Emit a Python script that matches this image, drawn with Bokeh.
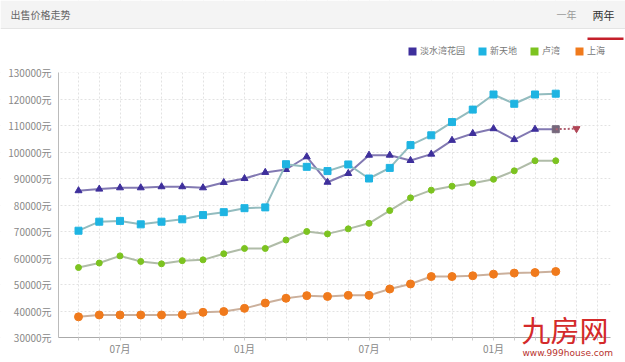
from bokeh.plotting import figure
from bokeh.models import Range1d, FixedTicker, Legend, LegendItem, Label, BoxAnnotation
from bokeh.embed import file_html
from bokeh.resources import INLINE

# ---------------- data ----------------
months = list(range(24))
x_ticks = list(range(26))
x_tick_labels = {2: "07月", 8: "01月", 14: "07月", 20: "01月"}
y_ticks = [30000, 40000, 50000, 60000, 70000, 80000, 90000, 100000, 110000, 120000, 130000]

names = ["淡水湾花园", "新天地", "卢湾", "上海"]
danshuiwan = [85400, 86000, 86500, 86500, 86900, 86900, 86500, 88500, 90000, 92300, 93400, 98200,
              88600, 91900, 98800, 98800, 96800, 99200, 104400, 107000, 108800, 104700, 108600, 108600]
xintiandi = [70300, 73700, 74000, 72700, 73700, 74600, 76200, 77300, 78800, 79100, 95400, 94400,
             92800, 95300, 90000, 94000, 102600, 106300, 111300, 116000, 121700, 118200, 121700, 122000]
luwan = [56400, 58100, 60800, 58700, 57800, 59000, 59300, 61600, 63600, 63600, 66800, 70000,
         69100, 71000, 73100, 77900, 82700, 85600, 87100, 88200, 89700, 92900, 96700, 96700]
shanghai = [37800, 38500, 38500, 38500, 38500, 38600, 39500, 39800, 41000, 43000, 44800, 45800,
            45500, 45900, 45900, 48300, 50200, 53000, 53000, 53300, 53900, 54300, 54500, 54900]
forecast_x = [23, 24]
forecast_y = [108600, 108800]
colors = ["#3e2f9c", "#1eb4e2", "#7cc320", "#f07a1c"]

FONT = "Noto Sans CJK SC"

# ---------------- canvas geometry (page pixels -> data) ----------------
W, H = 625, 362
PX_X = 20.75          # pixels per month
PX_Y = 0.00265        # pixels per unit of price
X_LEFT = -78 / PX_X   # canvas left edge in month units
Y_TOP = 30000 + 337 / PX_Y


def dx(page_x):
    return X_LEFT + page_x / PX_X


def dy(page_y):
    return Y_TOP - page_y / PX_Y


x_lo, x_hi = -0.96, 25.64   # plot area edges (month units)

p = figure(width=W, height=H,
           x_range=Range1d(X_LEFT, X_LEFT + W / PX_X),
           y_range=Range1d(Y_TOP - H / PX_Y, Y_TOP),
           output_backend="svg", toolbar_location=None, min_border=0)
p.outline_line_color = None

# grid
p.xgrid.ticker = FixedTicker(ticks=x_ticks)
p.ygrid.ticker = FixedTicker(ticks=y_ticks)
for g in (p.xgrid, p.ygrid):
    g.grid_line_color = "#e2e2e2"
    g.grid_line_dash = "2 2"

# keep the grid inside the plot area
for kw in (dict(bottom=y_ticks[-1]), dict(top=y_ticks[0]), dict(right=x_lo), dict(left=x_hi)):
    p.add_layout(BoxAnnotation(fill_color="white", fill_alpha=1, line_alpha=0,
                               level="underlay", **kw))

# header bar
p.add_layout(BoxAnnotation(bottom=dy(28), fill_color="#f4f4f4", fill_alpha=1, line_alpha=0,
                           level="underlay"))
p.add_layout(BoxAnnotation(top=dy(27.5), bottom=dy(28.5), fill_color="#e4e4e4", fill_alpha=1,
                           line_alpha=0, level="underlay"))
p.add_layout(BoxAnnotation(left=dx(587), right=dx(623), top=dy(37), bottom=dy(39.5),
                           fill_color="#c41f2a", fill_alpha=1, line_alpha=0, level="underlay"))
p.add_layout(Label(x=dx(10), y=dy(14), text="出售价格走势", text_baseline="middle",
                   text_font=FONT, text_font_size="10px", text_color="#666666"))
p.add_layout(Label(x=dx(566), y=dy(14), text="一年", text_baseline="middle", text_align="center",
                   text_font=FONT, text_font_size="10px", text_color="#999999"))
p.add_layout(Label(x=dx(603), y=dy(14), text="两年", text_baseline="middle", text_align="center",
                   text_font=FONT, text_font_size="11px", text_color="#333333"))

# axes
p.xaxis.fixed_location = y_ticks[0]
p.xaxis.bounds = (x_lo, x_hi)
p.xaxis.ticker = FixedTicker(ticks=x_ticks)
p.xaxis.major_label_overrides = {i: x_tick_labels.get(i, "") for i in x_ticks}
p.xaxis.major_tick_out = 3
p.xaxis.major_tick_in = 0
p.xaxis.minor_tick_line_color = None
p.xaxis.axis_line_color = "#aaaaaa"
p.xaxis.major_tick_line_color = "#cccccc"
p.xaxis.major_label_standoff = 0

p.yaxis.fixed_location = x_lo
p.yaxis.bounds = (y_ticks[0], y_ticks[-1])
p.yaxis.ticker = FixedTicker(ticks=y_ticks)
p.yaxis.major_label_overrides = {v: f"{v}元" for v in y_ticks}
p.yaxis.major_tick_out = 0
p.yaxis.major_tick_in = 0
p.yaxis.minor_tick_line_color = None
p.yaxis.axis_line_color = "#bbbbbb"
p.yaxis.major_label_standoff = 7

for ax in (p.xaxis, p.yaxis):
    ax.major_label_text_font = FONT
    ax.major_label_text_font_size = "10px"
    ax.major_label_text_color = "#888888"

# series
p.line(months, danshuiwan, line_color="#8279b2", line_width=2)
p.scatter(months[:-1], danshuiwan[:-1], marker="triangle", size=7, color=colors[0])
p.scatter(months[-1:], danshuiwan[-1:], marker="square", size=7, color="#76687c")
p.line(forecast_x, forecast_y, line_color="#b06070", line_width=2, line_dash="2 2")
p.scatter(forecast_x[1:], forecast_y[1:], marker="inverted_triangle", size=7, color="#b04556")

p.line(months, xintiandi, line_color="#93bcbf", line_width=2)
p.scatter(months, xintiandi, marker="square", size=7, color=colors[1])

p.line(months, luwan, line_color="#b0bca8", line_width=2)
p.scatter(months, luwan, marker="circle", size=6, color=colors[2])

p.line(months, shanghai, line_color="#cbb09c", line_width=2)
p.scatter(months, shanghai, marker="circle", size=8, color=colors[3])

# legend (colour swatches; proxies lie outside the visible ranges)
items = []
for n, c in zip(names, colors):
    r = p.quad(left=[X_LEFT - 20], right=[X_LEFT - 19], bottom=[0], top=[1],
               fill_color=c, line_color=None)
    items.append(LegendItem(label=n, renderers=[r]))
legend = Legend(items=items, orientation="horizontal", location=(407, H - 57),
                glyph_width=10, glyph_height=10, label_height=12, label_standoff=3,
                spacing=12, padding=0, margin=0, border_line_color=None,
                background_fill_alpha=0, label_text_font=FONT,
                label_text_font_size="9px", label_text_color="#777777")
p.add_layout(legend)

# watermark
p.add_layout(Label(x=dx(521), y=dy(328), text="九房网", text_font=FONT, text_font_size="29px",
                   text_color="#d42a2a", text_baseline="middle"))
p.add_layout(Label(x=dx(522), y=dy(352), text="www.999house.com", text_font="DejaVu Sans",
                   text_font_size="9px", text_color="#b8322e", text_baseline="middle"))

open("out.html", "w").write(file_html(p, INLINE))
